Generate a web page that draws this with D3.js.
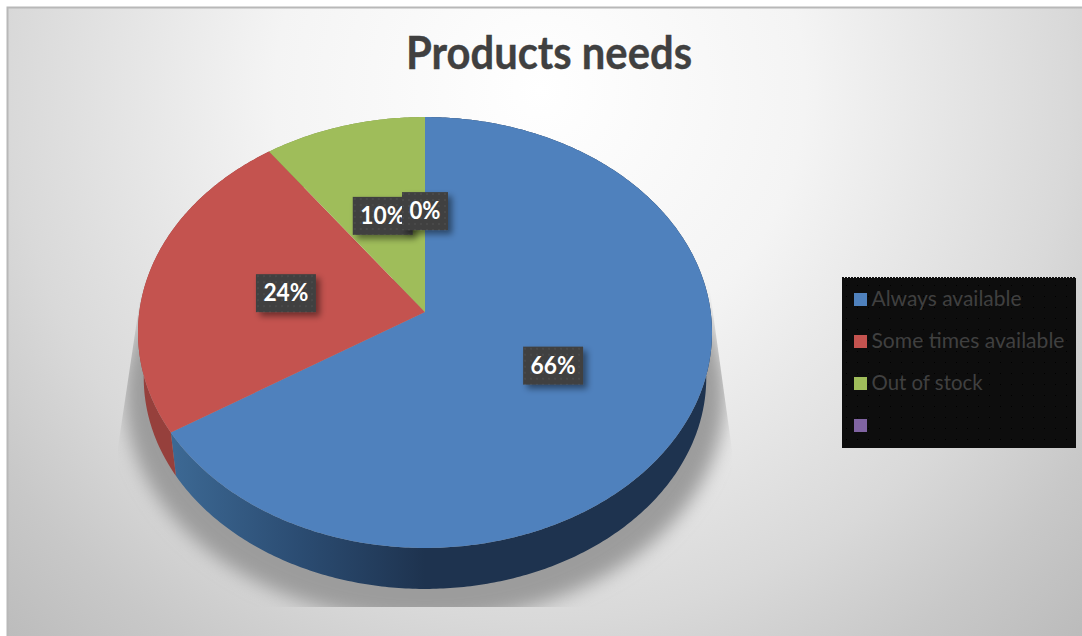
<!DOCTYPE html>
<html>
<head>
<meta charset="utf-8">
<style>
  html, body { margin: 0; padding: 0; background: #fff; }
  svg { display: block; }
  text { font-family: Lato, "Open Sans", sans-serif; }
</style>
<script src="https://cdn.jsdelivr.net/npm/d3@7/dist/d3.min.js"></script>
</head>
<body>
<div id="chart"></div>
<script>
const chartTitle = "Products needs";
const categories = ["Always available", "Some times available", "Out of stock", ""];
const shares = [66, 24, 10, 0];
const sliceColors = ["#4f81bd", "#c4534f", "#9fbd5a", "#8064a2"];

const width = 1082, height = 636;

// Tilted disc: a circle seen in perspective, near rim larger than far rim.
const disc = { cx: 425, cy: 312, ax: 285.7, ay: 213.5, tilt: 0.0951 };
const rim = { drop: 45.7, shrink: 0.98 };
const labelRadius = 0.5;

const svg = d3.select("#chart").append("svg")
  .attr("width", width).attr("height", height);
const defs = svg.append("defs");

// Panel background
const bg = defs.append("radialGradient").attr("id", "panelFill")
  .attr("gradientUnits", "userSpaceOnUse")
  .attr("cx", 540).attr("cy", 90).attr("r", 780);
[[0, "#ffffff"], [0.34, "#f4f4f4"], [0.68, "#d9d9d9"], [0.84, "#c8c8c8"], [1, "#bababa"]]
  .forEach(([o, c]) => bg.append("stop").attr("offset", o).attr("stop-color", c));

// Side wall shading of the largest slice
const wall = defs.append("linearGradient").attr("id", "wallBlue")
  .attr("gradientUnits", "userSpaceOnUse")
  .attr("x1", 175).attr("x2", 425).attr("y1", 0).attr("y2", 0);
[[0, "#3c6893"], [0.5, "#2b4c72"], [1, "#1e334f"]]
  .forEach(([o, c]) => wall.append("stop").attr("offset", o).attr("stop-color", c));

// Soft shadow filters
defs.append("filter").attr("id", "soft")
  .attr("x", "-10%").attr("y", "-10%").attr("width", "120%").attr("height", "120%")
  .append("feGaussianBlur").attr("stdDeviation", 9);
const boxShadow = defs.append("filter").attr("id", "boxShadow")
  .attr("x", "-30%").attr("y", "-30%").attr("width", "170%").attr("height", "170%");
boxShadow.append("feDropShadow")
  .attr("dx", 4).attr("dy", 4).attr("stdDeviation", 3)
  .attr("flood-color", "#000").attr("flood-opacity", 0.45);

// Dotted textures for the label boxes and the legend
const dots = defs.append("pattern").attr("id", "labelDots")
  .attr("patternUnits", "userSpaceOnUse").attr("width", 6).attr("height", 6);
dots.append("rect").attr("width", 6).attr("height", 6).attr("fill", "#404040");
dots.append("circle").attr("cx", 2).attr("cy", 2).attr("r", 1.1).attr("fill", "#4b4b4b");
const legendDots = defs.append("pattern").attr("id", "legendDots")
  .attr("patternUnits", "userSpaceOnUse").attr("width", 11).attr("height", 11);
legendDots.append("rect").attr("width", 11).attr("height", 11).attr("fill", "#0d0d0d");
legendDots.append("rect").attr("x", 4).attr("y", 7).attr("width", 1).attr("height", 1).attr("fill", "#000");

// Maps a pie angle (clockwise from twelve o'clock) and radius onto the page.
function project(angle, r = 1, drop = 0, scale = 1) {
  const u = Math.sin(angle) * r;
  const s = -Math.cos(angle) * r;
  const w = 1 - disc.tilt * s;
  return [
    disc.cx + scale * disc.ax * u / w,
    disc.cy + drop + scale * disc.ay * s / w
  ];
}

const line = d3.line();
const sampleAngles = (a0, a1) => {
  const n = Math.max(2, Math.ceil(Math.abs(a1 - a0) * 90));
  return d3.range(n + 1).map(i => a0 + (a1 - a0) * i / n);
};

const pie = d3.pie().sort(null).value(d => d)(shares);
pie.forEach((d, i) => { d.color = sliceColors[i]; d.name = categories[i]; });

// Panel
svg.append("rect")
  .attr("x", 7.5).attr("y", 7.5)
  .attr("width", width + 10).attr("height", height + 10)
  .attr("fill", "url(#panelFill)")
  .attr("stroke", "#b8b8b8").attr("stroke-width", 2);

// Title
svg.append("text")
  .attr("x", 406).attr("y", 69)
  .attr("font-size", 46).attr("font-weight", 700)
  .attr("fill", "#404040").attr("stroke", "#404040").attr("stroke-width", 0.4)
  .attr("textLength", 286).attr("lengthAdjust", "spacingAndGlyphs")
  .text(chartTitle);

// Ground shadow, cut off by its bounding trapezoid
defs.append("clipPath").attr("id", "shadowClip")
  .append("path")
  .attr("d", line([[143, 280], [118, 447], [118, 607], [732, 607], [732, 450], [708, 277]]) + "Z");
svg.append("g").attr("clip-path", "url(#shadowClip)")
  .append("path")
  .attr("d", line(sampleAngles(0, 2 * Math.PI).map(a => project(a, 1, 62, 1.045))) + "Z")
  .attr("fill", "#9c9c9c")
  .attr("filter", "url(#soft)");

// Side walls, then the top faces over them
const wallFill = d => d.index === 0 ? "url(#wallBlue)" : d3.color(d.color).darker(0.75);
svg.append("g").selectAll("path").data(pie).join("path")
  .attr("d", d => {
    const angles = sampleAngles(d.startAngle, d.endAngle);
    const top = angles.map(a => project(a));
    const bottom = angles.slice().reverse().map(a => project(a, 1, rim.drop, rim.shrink));
    return line(top.concat(bottom)) + "Z";
  })
  .attr("fill", wallFill);

svg.append("g").selectAll("path").data(pie).join("path")
  .attr("d", d => {
    const outline = sampleAngles(d.startAngle, d.endAngle).map(a => project(a));
    return line([project(0, 0)].concat(outline)) + "Z";
  })
  .attr("fill", d => d.color);

// Value labels on dotted boxes; the zero share sits over its neighbour
const pct = d3.format(".0%");
const labels = svg.append("g").selectAll("g")
  .data(pie)
  .join("g")
  .attr("transform", d => {
    const p = project((d.startAngle + d.endAngle) / 2, labelRadius);
    return `translate(${p[0]},${p[1]})`;
  });
const boxW = d => d.value < 10 ? 46 : 60;
labels.append("rect")
  .attr("x", d => -boxW(d) / 2).attr("y", -18)
  .attr("width", boxW).attr("height", 38)
  .attr("fill", "url(#labelDots)")
  .attr("filter", "url(#boxShadow)");
labels.append("text")
  .attr("text-anchor", "middle").attr("y", 9)
  .attr("font-size", 25).attr("font-weight", 700)
  .attr("fill", "#fff")
  .attr("textLength", d => d.value < 10 ? 31 : 45).attr("lengthAdjust", "spacingAndGlyphs")
  .text(d => pct(d.value / 100));

// Legend
const legend = svg.append("g").attr("transform", "translate(842,278)");
legend.append("rect").attr("width", 234).attr("height", 170).attr("fill", "url(#legendDots)");
legend.append("line").attr("x1", 0).attr("x2", 234).attr("y1", -0.5).attr("y2", -0.5)
  .attr("stroke", "#0d0d0d").attr("stroke-dasharray", "2 1");
const legendY = d3.scalePoint().domain(d3.range(categories.length)).range([15, 141]);
const legendWidths = [150, 193, 111, 0];
const rows = legend.selectAll("g.row").data(categories).join("g")
  .attr("class", "row")
  .attr("transform", (d, i) => `translate(12,${legendY(i)})`);
rows.append("rect").attr("width", 13).attr("height", 13)
  .attr("fill", (d, i) => sliceColors[i]);
rows.filter(d => d !== "").append("text")
  .attr("x", 17.5).attr("y", 13)
  .attr("font-size", 22).attr("fill", "#404040")
  .attr("textLength", (d, i) => legendWidths[i]).attr("lengthAdjust", "spacingAndGlyphs")
  .text(d => d);
</script>
</body>
</html>
